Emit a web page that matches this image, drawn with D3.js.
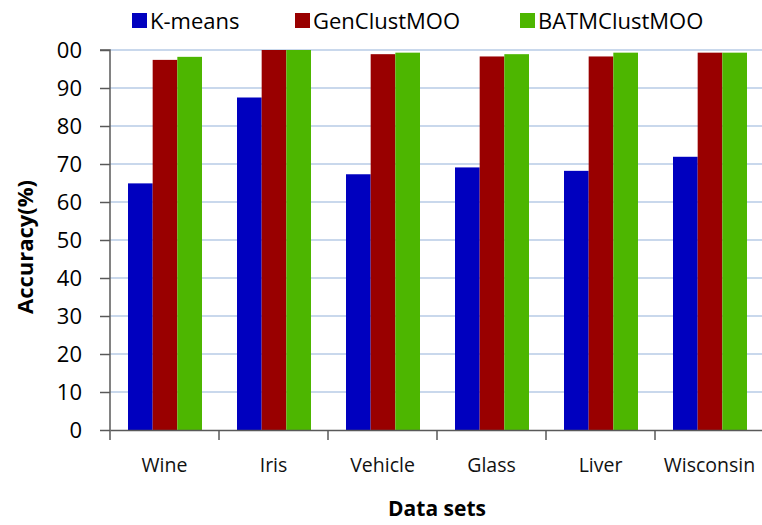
<!DOCTYPE html>
<html><head><meta charset="utf-8">
<script src="https://cdn.jsdelivr.net/npm/d3@7"></script>
<style>body{margin:0;background:#fff;} svg{display:block;}</style>
</head><body>
<svg id="c" width="762" height="525"></svg>
<script>
const categories = ["Wine","Iris","Vehicle","Glass","Liver","Wisconsin"];
const seriesNames = ["K-means","GenClustMOO","BATMClustMOO"];
const kmeans = [64.9, 87.5, 67.3, 69.1, 68.2, 71.9];
const genclust = [97.4, 100, 98.9, 98.3, 98.3, 99.3];
const batm = [98.2, 100, 99.3, 98.9, 99.3, 99.3];
const yTicks = [0,10,20,30,40,50,60,70,80,90,100];
const yTickLabels = ["0","10","20","30","40","50","60","70","80","90","00"];
const colors = ["#0000bf","#990000","#4db600"];

const series = [kmeans, genclust, batm];
const svg = d3.select("#c");
const font = "'Open Sans', sans-serif";
const m = {l:110, r:-2, t:50, b:95};
const W = 762, H = 525;
const x = d3.scaleBand().domain(categories).range([m.l, W - m.r]).paddingInner(0).paddingOuter(0);
const y = d3.scaleLinear().domain([0,100]).range([H - m.b, m.t]);
const groupPad = 18/109;
const x1 = d3.scaleBand().domain(seriesNames).range([x.bandwidth()*groupPad, x.bandwidth()*(1-groupPad)+1]);

// gridlines
svg.append("g").selectAll("line").data(yTicks.slice(1)).join("line")
  .attr("x1", m.l).attr("x2", W).attr("y1", d=>y(d)).attr("y2", d=>y(d))
  .attr("stroke","#b7cbe6").attr("stroke-width",1.5);

// bars
const g = svg.append("g");
categories.forEach((c,i)=>{
  seriesNames.forEach((s,j)=>{
    g.append("rect")
      .attr("x", x(c)+x1(s)).attr("width", x1.bandwidth())
      .attr("y", y(series[j][i])).attr("height", y(0)-y(series[j][i]))
      .attr("fill", colors[j]);
  });
});

// y axis
const ya = svg.append("g").attr("transform",`translate(${m.l},0)`)
  .call(d3.axisLeft(y).tickValues(yTicks).tickSize(10).tickPadding(18).tickFormat((d,i)=>yTickLabels[i]));
ya.select(".domain").attr("stroke","#595959").attr("stroke-width",1.5).attr("d",`M-10,${y(100)}H0V${y(0)}`);
ya.selectAll(".tick line").attr("stroke","#595959").attr("stroke-width",1.5);
ya.selectAll(".tick text").attr("font-family",font).attr("font-size",22).attr("font-weight",500).attr("fill","#000").attr("dy","0.36em");

// x axis
const xa = svg.append("g").attr("transform",`translate(0,${y(0)})`)
  .call(d3.axisBottom(x).tickSize(0).tickPadding(28));
xa.select(".domain").attr("stroke","#595959").attr("stroke-width",1.5);
xa.selectAll(".tick text").attr("font-family",font).attr("font-size",19.5).attr("font-weight",500).attr("fill","#111");
xa.selectAll(".sep").data(d3.range(categories.length+1)).join("line").attr("class","sep")
  .attr("x1", i=>m.l + i*x.step()).attr("x2", i=>m.l + i*x.step())
  .attr("y1",0).attr("y2",10).attr("stroke","#595959").attr("stroke-width",1.5);

// axis titles
svg.append("text").attr("x",437).attr("y",516).attr("text-anchor","middle")
  .attr("font-family",font).attr("font-weight","bold").attr("font-size",21).attr("fill","#000").text("Data sets");
svg.append("text").attr("transform","translate(33,247) rotate(-90)").attr("text-anchor","middle")
  .attr("font-family",font).attr("font-weight","bold").attr("font-size",22).attr("fill","#000").text("Accuracy(%)");

// legend
const legX = [132, 295, 520];
const lg = svg.append("g");
seriesNames.forEach((s,j)=>{
  lg.append("rect").attr("x",legX[j]).attr("y",13).attr("width",15).attr("height",15).attr("fill",colors[j]);
  lg.append("text").attr("x",legX[j]+18).attr("y",28.5).attr("font-family",font).attr("font-size",22).attr("font-weight",500)
    .attr("fill","#000").text(s);
});
</script>
</body></html>
